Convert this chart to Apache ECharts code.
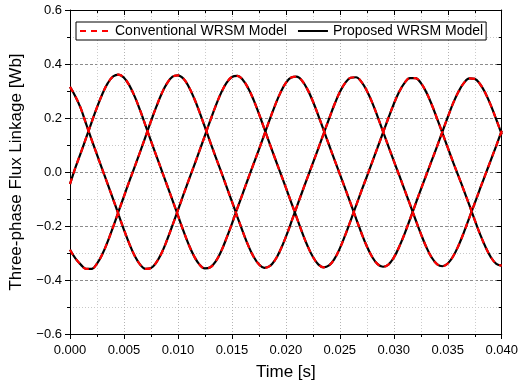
<!DOCTYPE html>
<html>
<head>
<meta charset="utf-8">
<script src="https://cdn.jsdelivr.net/npm/echarts@6/dist/echarts.min.js"></script>
<style>
  html, body { margin: 0; padding: 0; background: #fff; }
  #chart { width: 521px; height: 391px; }
</style>
</head>
<body>
<div id="chart"></div>
<script>
// sample spacing of the traces (s)
const tStep = 0.0005;

// flux linkage per phase [Wb], every 0.5 ms (0 .. 0.04 s)
// conventional and proposed models lie on top of each other at this scale
const phaseA = [
  0.315, 0.280, 0.236, 0.177, 0.120, 0.064, 0.009, -0.046, -0.101, -0.158,
  -0.214, -0.266, -0.311, -0.343, -0.359, -0.356, -0.335, -0.299, -0.251, -0.197,
  -0.141, -0.085, -0.030, 0.024, 0.079, 0.135, 0.191, 0.245, 0.293, 0.330,
  0.352, 0.356, 0.342, 0.311, 0.268, 0.216, 0.161, 0.105, 0.050, -0.004,
  -0.058, -0.113, -0.168, -0.223, -0.273, -0.314, -0.342, -0.353, -0.346, -0.322,
  -0.283, -0.234, -0.180, -0.125, -0.070, -0.017, 0.037, 0.091, 0.146, 0.200,
  0.252, 0.297, 0.330, 0.348, 0.348, 0.330, 0.296, 0.251, 0.199, 0.145,
  0.090, 0.036, -0.016, -0.069, -0.123, -0.178, -0.231, -0.278, -0.316, -0.340,
  -0.347
];
const phaseB = [
  -0.045, 0.016, 0.071, 0.127, 0.184, 0.239, 0.289, 0.329, 0.354, 0.361,
  0.349, 0.321, 0.279, 0.228, 0.172, 0.115, 0.060, 0.005, -0.050, -0.105,
  -0.161, -0.217, -0.269, -0.312, -0.343, -0.357, -0.353, -0.331, -0.294, -0.245,
  -0.192, -0.135, -0.080, -0.025, 0.029, 0.083, 0.138, 0.194, 0.247, 0.294,
  0.330, 0.350, 0.353, 0.338, 0.306, 0.262, 0.210, 0.155, 0.100, 0.046,
  -0.008, -0.062, -0.116, -0.172, -0.226, -0.275, -0.315, -0.341, -0.351, -0.343,
  -0.317, -0.277, -0.229, -0.175, -0.120, -0.065, -0.012, 0.041, 0.094, 0.149,
  0.203, 0.255, 0.298, 0.330, 0.347, 0.345, 0.325, 0.291, 0.246, 0.194,
  0.139
];
const phaseC = [
  -0.288, -0.320, -0.343, -0.359, -0.359, -0.339, -0.304, -0.257, -0.203, -0.146,
  -0.090, -0.034, 0.020, 0.075, 0.131, 0.188, 0.242, 0.291, 0.329, 0.353,
  0.358, 0.346, 0.316, 0.273, 0.222, 0.166, 0.110, 0.055, 0.001, -0.054,
  -0.109, -0.165, -0.220, -0.271, -0.313, -0.342, -0.355, -0.349, -0.326, -0.288,
  -0.240, -0.186, -0.130, -0.075, -0.021, 0.033, 0.087, 0.142, 0.197, 0.250,
  0.296, 0.330, 0.349, 0.351, 0.334, 0.301, 0.257, 0.205, 0.150, 0.095,
  0.041, -0.012, -0.066, -0.120, -0.175, -0.228, -0.277, -0.316, -0.341, -0.349,
  -0.339, -0.312, -0.272, -0.223, -0.169, -0.115, -0.061, -0.008, 0.045, 0.098,
  0.153
];

const seriesNames = ['Conventional WRSM Model', 'Proposed WRSM Model'];

const times = phaseA.map((_, i) => +(i * tStep).toFixed(4));
const toPairs = vals => vals.map((v, i) => [times[i], v]);

const font = '"Liberation Sans", Arial, sans-serif';
const black = '#000';

const chart = echarts.init(document.getElementById('chart'), null, { renderer: 'canvas' });

// one trace per phase and model
function makeSeries(name, vals, conventional) {
  return {
    name: name,
    type: 'line',
    data: toPairs(vals),
    showSymbol: false,
    symbol: 'none',
    smooth: 0.4,
    z: conventional ? 3 : 2,
    lineStyle: conventional
      ? { color: '#ff0000', width: 2.2, type: [6, 5] }
      : { color: '#000000', width: 2.2, type: 'solid' },
    itemStyle: { color: conventional ? '#ff0000' : '#000000' }
  };
}

const allSeries = [];
[phaseA, phaseB, phaseC].forEach(p => allSeries.push(makeSeries(seriesNames[0], p, true)));
[phaseA, phaseB, phaseC].forEach(p => allSeries.push(makeSeries(seriesNames[1], p, false)));

const option = {
  backgroundColor: '#fff',
  animation: false,
  textStyle: { fontFamily: font },
  grid: { left: 68, right: 18, top: 10, bottom: 57 },
  legend: {
    data: seriesNames,
    left: 76,
    top: 22,
    orient: 'horizontal',
    itemWidth: 30,
    itemHeight: 12,
    itemGap: 10,
    padding: [2, 3, 2, 3],
    backgroundColor: '#fff',
    borderColor: black,
    borderWidth: 1,
    borderRadius: 0,
    itemStyle: { opacity: 0 },
    textStyle: { fontSize: 14, color: black, fontFamily: font }
  },
  xAxis: [
    {
      type: 'value',
      position: 'bottom',
      min: 0,
      max: 0.04,
      interval: 0.005,
      name: 'Time [s]',
      nameLocation: 'middle',
      nameGap: 30,
      nameTextStyle: { fontSize: 17, color: black, fontFamily: font },
      axisLine: { show: true, onZero: false, lineStyle: { color: black, width: 1 } },
      axisTick: { show: true, length: 5, lineStyle: { color: black } },
      minorTick: { show: true, splitNumber: 2, length: 3, lineStyle: { color: black } },
      axisLabel: {
        fontSize: 13, color: black, margin: 10,
        showMinLabel: true, showMaxLabel: true,
        formatter: v => v.toFixed(3)
      },
      splitLine: { show: true, lineStyle: { color: '#b4b4b4', type: [1, 2], width: 1 } },
      minorSplitLine: { show: true, lineStyle: { color: '#cccccc', type: [1, 2], width: 1 } }
    },
    {
      type: 'value',
      position: 'top',
      min: 0,
      max: 0.04,
      interval: 0.005,
      axisLine: { show: true, onZero: false, lineStyle: { color: black, width: 1 } },
      axisTick: { show: true, inside: true, length: 5, lineStyle: { color: black } },
      minorTick: { show: true, splitNumber: 2, length: 3, lineStyle: { color: black } },
      axisLabel: { show: false },
      splitLine: { show: false }
    }
  ],
  yAxis: [
    {
      type: 'value',
      position: 'left',
      min: -0.6,
      max: 0.6,
      interval: 0.2,
      name: 'Three-phase Flux Linkage [Wb]',
      nameLocation: 'middle',
      nameGap: 45,
      nameTextStyle: { fontSize: 17, color: black, fontFamily: font },
      axisLine: { show: true, onZero: false, lineStyle: { color: black, width: 1 } },
      axisTick: { show: true, length: 5, lineStyle: { color: black } },
      minorTick: { show: true, splitNumber: 2, length: 3, lineStyle: { color: black } },
      axisLabel: {
        fontSize: 13, color: black, margin: 8,
        showMinLabel: true, showMaxLabel: true,
        formatter: v => (v < -1e-9 ? '\u2212' : '') + Math.abs(v).toFixed(1)
      },
      splitLine: { show: true, lineStyle: { color: '#8c8c8c', type: [3, 2], width: 1 } },
      minorSplitLine: { show: true, lineStyle: { color: '#c8c8c8', type: [1, 2], width: 1 } }
    },
    {
      type: 'value',
      position: 'right',
      min: -0.6,
      max: 0.6,
      interval: 0.2,
      axisLine: { show: true, onZero: false, lineStyle: { color: black, width: 1 } },
      axisTick: { show: true, inside: true, length: 5, lineStyle: { color: black } },
      minorTick: { show: true, splitNumber: 2, length: 3, lineStyle: { color: black } },
      axisLabel: { show: false },
      splitLine: { show: false }
    }
  ],
  series: allSeries
};

chart.setOption(option);
</script>
</body>
</html>
